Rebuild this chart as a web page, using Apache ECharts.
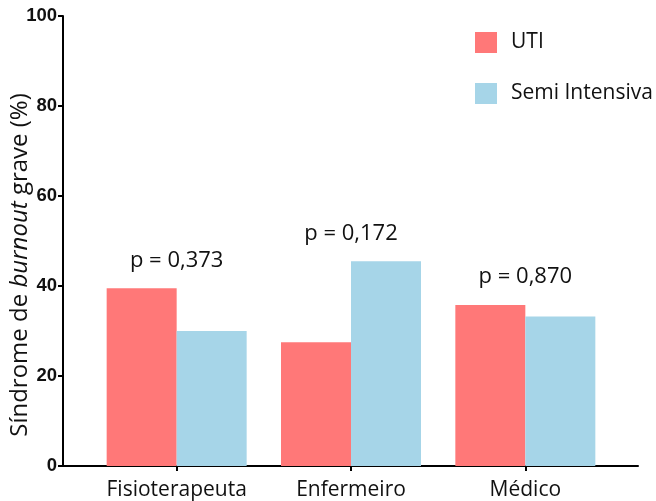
<!DOCTYPE html>
<html>
<head>
<meta charset="utf-8">
<script src="https://cdn.jsdelivr.net/npm/echarts@6/dist/echarts.min.js"></script>
<style>
  html, body { margin: 0; padding: 0; background: #fff; }
  #chart { width: 656px; height: 501px; }
</style>
</head>
<body>
<div id="chart"></div>
<script>
// categorias e valores
const categories = ['Fisioterapeuta', 'Enfermeiro', 'Médico'];
const utiValues = [39.5, 27.5, 35.8];
const semiValues = [30.0, 45.5, 33.2];
const pValues = ['p = 0,373', 'p = 0,172', 'p = 0,870'];
const yTicks = [0, 20, 40, 60, 80, 100];

const RED = '#FF7878';
const BLUE = '#A6D5E8';
const labelFont = '"Open Sans", "Noto Sans", sans-serif';

// o rótulo do p fica sobre a barra mais alta, centrado na categoria
function withP(values, other, shift) {
    return values.map(function (v, i) {
        if (v < other[i]) return v;
        return {
            value: v,
            label: {
                show: true,
                position: 'top',
                distance: 17,
                offset: [shift, 0],
                formatter: pValues[i],
                fontSize: 22,
                fontFamily: labelFont,
                color: '#111'
            }
        };
    });
}

let chart = echarts.init(document.getElementById('chart'), null, {renderer: 'canvas'});

let option = {
    animation: false,
    backgroundColor: '#fff',
    grid: [
        {left: 89.5, width: 523, top: 16, bottom: 35, outerBoundsMode: 'none'},
        {left: 63, right: 18, top: 16, bottom: 35, outerBoundsMode: 'none'}
    ],
    legend: {
        orient: 'vertical',
        left: 470,
        top: 27,
        itemWidth: 22,
        itemHeight: 21,
        itemGap: 30,
        icon: 'rect',
        textStyle: {fontSize: 21, fontFamily: labelFont, color: '#111', padding: [0, 0, 0, 9]},
        data: ['UTI', 'Semi Intensiva']
    },
    xAxis: [
        {
            type: 'category',
            gridIndex: 0,
            data: categories,
            axisLine: {show: false},
            axisTick: {show: true, alignWithLabel: true, length: 5, lineStyle: {color: '#000', width: 2}},
            axisLabel: {interval: 0, hideOverlap: false, fontSize: 21, fontFamily: labelFont, color: '#111', margin: 14}
        },
        {
            type: 'value',
            gridIndex: 1,
            axisLine: {show: true, onZero: false, lineStyle: {color: '#000', width: 2}},
            axisTick: {show: false},
            axisLabel: {show: false},
            splitLine: {show: false}
        }
    ],
    yAxis: [
        {
            type: 'value',
            gridIndex: 0,
            min: yTicks[0],
            max: yTicks[yTicks.length - 1],
            interval: yTicks[1] - yTicks[0],
            offset: 26.5,
            axisLine: {show: true, lineStyle: {color: '#000', width: 2}},
            axisTick: {show: true, length: 5, lineStyle: {color: '#000', width: 2}},
            axisLabel: {fontSize: 18.5, fontWeight: 'bold', fontFamily: '"Liberation Sans", Arial, sans-serif', color: '#111', margin: 6},
            splitLine: {show: false},
            name: 'Síndrome de {i|burnout} grave (%)',
            nameLocation: 'middle',
            nameGap: 31,
            nameMoveOverlap: false,
            nameTextStyle: {
                fontSize: 24,
                fontFamily: labelFont,
                color: '#111',
                padding: [0, 48, 0, 0],
                rich: {i: {fontSize: 24, fontFamily: labelFont, fontStyle: 'italic', color: '#111'}}
            }
        },
        {
            type: 'value',
            gridIndex: 1,
            show: false
        }
    ],
    series: [
        {
            name: 'UTI',
            type: 'bar',
            xAxisIndex: 0,
            yAxisIndex: 0,
            barWidth: 70,
            barGap: '0%',
            itemStyle: {color: RED},
            data: withP(utiValues, semiValues, 35)
        },
        {
            name: 'Semi Intensiva',
            type: 'bar',
            xAxisIndex: 0,
            yAxisIndex: 0,
            barWidth: 70,
            barGap: '0%',
            itemStyle: {color: BLUE},
            data: withP(semiValues, utiValues, -35)
        }
    ]
};

option && chart.setOption(option);
</script>
</body>
</html>
